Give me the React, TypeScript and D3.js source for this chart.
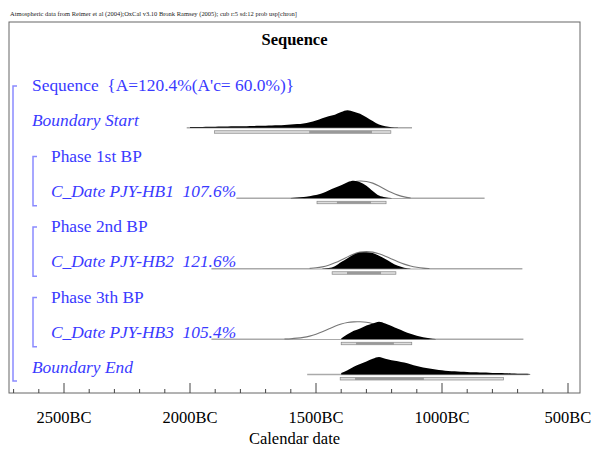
import React from "react";
import * as d3 from "d3";

const W = 592;
const H = 449;
const SERIF = "'Liberation Serif', 'Times New Roman', serif";
const BLUE = "#3a3aff";

const header =
  "Atmospheric data from Reimer et al (2004);OxCal v3.10 Bronk Ramsey (2005); cub r:5 sd:12 prob usp[chron]";
const title = "Sequence";
const axisTitle = "Calendar date";

// rows of the OxCal plot, top to bottom
const rowLabels = [
  "Sequence  {A=120.4%(A'c= 60.0%)}",
  "Boundary Start",
  "Phase 1st BP",
  "C_Date PJY-HB1  107.6%",
  "Phase 2nd BP",
  "C_Date PJY-HB2  121.6%",
  "Phase 3th BP",
  "C_Date PJY-HB3  105.4%",
  "Boundary End",
];
const rowIndent = [0, 0, 1, 1, 1, 1, 1, 1, 0];
const rowItalic = [false, true, false, true, false, true, false, true, true];

// years BC, axis
const majorTicks = [2500, 2000, 1500, 1000, 500];
const minorTicks = d3.range(2700, 499, -100);

// distributions, sampled every 25 years, first value at "from" (years BC)
const STEP = 25;
const startFrom = 2000;
const startPost = [
  0.04, 0.05, 0.05, 0.06, 0.06, 0.07, 0.07, 0.08, 0.08, 0.09, 0.1, 0.11, 0.12, 0.13, 0.14, 0.16, 0.18,
  0.21, 0.25, 0.32, 0.42, 0.55, 0.66, 0.75, 0.9, 1.0, 0.92, 0.8, 0.6, 0.38, 0.18, 0.08, 0.03, 0.01,
];
const hb1Post = [0.02, 0.04, 0.07, 0.12, 0.18, 0.28, 0.45, 0.6, 0.75, 0.92, 1.0, 0.92, 0.72, 0.42, 0.16, 0.06, 0.02];
const hb1PostFrom = 1600;
const hb1Like = [
  0.03, 0.06, 0.12, 0.22, 0.36, 0.52, 0.68, 0.84, 0.95, 1.0, 0.97, 0.88, 0.7, 0.5, 0.32, 0.17, 0.07, 0.02,
];
const hb1LikeFrom = 1550;
const hb2Post = [0.01, 0.04, 0.15, 0.38, 0.6, 0.82, 0.93, 0.95, 0.9, 0.75, 0.56, 0.35, 0.17, 0.06, 0.01];
const hb2PostFrom = 1475;
const hb2Like = [
  0.02, 0.05, 0.1, 0.2, 0.33, 0.5, 0.68, 0.85, 0.96, 1.0, 0.96, 0.86, 0.72, 0.56, 0.4, 0.26, 0.15, 0.08,
  0.03, 0.01,
];
const hb2LikeFrom = 1525;
const hb3Post = [0.05, 0.28, 0.48, 0.62, 0.78, 0.9, 1.0, 0.9, 0.76, 0.6, 0.45, 0.32, 0.2, 0.12, 0.06, 0.02];
const hb3PostFrom = 1400;
const hb3Like = [
  0.01, 0.03, 0.06, 0.1, 0.17, 0.28, 0.42, 0.58, 0.75, 0.88, 0.97, 1.0, 1.0, 0.98, 0.9, 0.76, 0.6, 0.44,
  0.3, 0.19, 0.11, 0.06, 0.03, 0.01,
];
const hb3LikeFrom = 1625;
const endPost = [
  0.08, 0.25, 0.45, 0.6, 0.75, 0.9, 1.0, 0.9, 0.82, 0.76, 0.68, 0.58, 0.48, 0.4, 0.34, 0.29, 0.24, 0.2,
  0.18, 0.16, 0.15, 0.13, 0.12, 0.11, 0.09, 0.08, 0.07, 0.06, 0.05, 0.04, 0.03,
];
const endFrom = 1400;

// per distribution row: Start, HB1, HB2, HB3, End
const distRows = [1, 3, 5, 7, 8];
const lineFrom = [2013, 1816, 1915, 1915, 1535];
const lineTo = [1119, 831, 681, 677, 657];
const r95From = [1903, 1496, 1436, 1400, 1404];
const r95To = [1203, 1222, 1183, 1120, 756];
const r68From = [1527, 1417, 1377, 1341, 1345];
const r68To = [1278, 1282, 1242, 1191, 1072];
const posts = [startPost, hb1Post, hb2Post, hb3Post, endPost];
const postFrom = [startFrom, hb1PostFrom, hb2PostFrom, hb3PostFrom, endFrom];
const likes = [null, hb1Like, hb2Like, hb3Like, null];
const likeFrom = [0, hb1LikeFrom, hb2LikeFrom, hb3LikeFrom, 0];

const frame = { left: 9, right: 580, top: 22, bottom: 393 };

export default function App() {
  const x = d3.scaleLinear().domain([2500, 500]).range([64, 568]);
  const y = d3
    .scalePoint<number>()
    .domain(d3.range(rowLabels.length))
    .range([91, 373]);
  const h = d3.scaleLinear().domain([0, 1]).range([0, 17.5]);

  const toPts = (vals: number[], from: number) => vals.map((v, i) => [from - i * STEP, v] as [number, number]);

  const area = (base: number) =>
    d3
      .area<[number, number]>()
      .x((d) => x(d[0]))
      .y0(base)
      .y1((d) => base - h(d[1]))
      .curve(d3.curveMonotoneX);
  const outline = (base: number) =>
    d3
      .line<[number, number]>()
      .x((d) => x(d[0]))
      .y((d) => base - h(d[1]))
      .curve(d3.curveBasis);

  return (
    <svg
      width={W}
      height={H}
      style={{ position: "absolute", left: 0, top: 0, background: "#fff" }}
      fontFamily={SERIF}
    >
      <rect width={W} height={H} fill="#fff" />
      <text x={10} y={16} fontSize={6.3} fill="#222" textLength={287} lengthAdjust="spacingAndGlyphs">
        {header}
      </text>
      <rect
        x={frame.left}
        y={frame.top}
        width={frame.right - frame.left}
        height={frame.bottom - frame.top}
        fill="none"
        stroke="#666"
        strokeWidth={1}
      />
      <text x={(frame.left + frame.right) / 2} y={45} textAnchor="middle" fontSize={16.5} fontWeight="bold">
        {title}
      </text>

      {/* brackets */}
      <path
        d={`M17,${y(0)! - 5}H13V${y(8)! + 8}H17`}
        fill="none"
        stroke="#8a8aff"
        strokeWidth={1.5}
      />
      {[2, 4, 6].map((r) => (
        <path
          key={r}
          d={`M37,${y(r)! - 5}H33V${y(r + 1)! + 9}H37`}
          fill="none"
          stroke="#8a8aff"
          strokeWidth={1.5}
        />
      ))}

      {rowLabels.map((lab, i) => (
        <text
          key={i}
          x={rowIndent[i] ? 51 : 32}
          y={y(i)}
          fontSize={17.4}
          fill={BLUE}
          fontStyle={rowItalic[i] ? "italic" : "normal"}
          style={{ whiteSpace: "pre" }}
        >
          {lab}
        </text>
      ))}

      {distRows.map((r, k) => {
        const base = y(r)! + 1.5;
        const like = likes[k];
        return (
          <g key={r}>
            <line x1={x(lineFrom[k])} x2={x(lineTo[k])} y1={base} y2={base} stroke="#aaa" strokeWidth={1.5} />
            {like && (
              <path
                d={outline(base)(toPts(like, likeFrom[k]))!}
                fill="#fff"
                stroke="#777"
                strokeWidth={1.1}
              />
            )}
            <path d={area(base)(toPts(posts[k], postFrom[k]))!} fill="#000" />
            <rect
              x={x(r95From[k])}
              y={base + 3}
              width={x(r95To[k]) - x(r95From[k])}
              height={2.5}
              fill="#ddd"
              stroke="#888"
              strokeWidth={0.7}
            />
            <rect
              x={x(r68From[k])}
              y={base + 3}
              width={x(r68To[k]) - x(r68From[k])}
              height={2.5}
              fill="#999"
            />
          </g>
        );
      })}

      {/* axis */}
      {minorTicks.map((t) => (
        <line
          key={t}
          x1={x(t)}
          x2={x(t)}
          y1={frame.bottom}
          y2={frame.bottom - (majorTicks.includes(t) ? 10 : 4)}
          stroke="#444"
          strokeWidth={1}
        />
      ))}
      {majorTicks.map((t) => (
        <text key={t} x={x(t)} y={423} textAnchor="middle" fontSize={16.5}>
          {`${t}BC`}
        </text>
      ))}
      <text x={(frame.left + frame.right) / 2} y={444} textAnchor="middle" fontSize={16.5}>
        {axisTitle}
      </text>
    </svg>
  );
}
